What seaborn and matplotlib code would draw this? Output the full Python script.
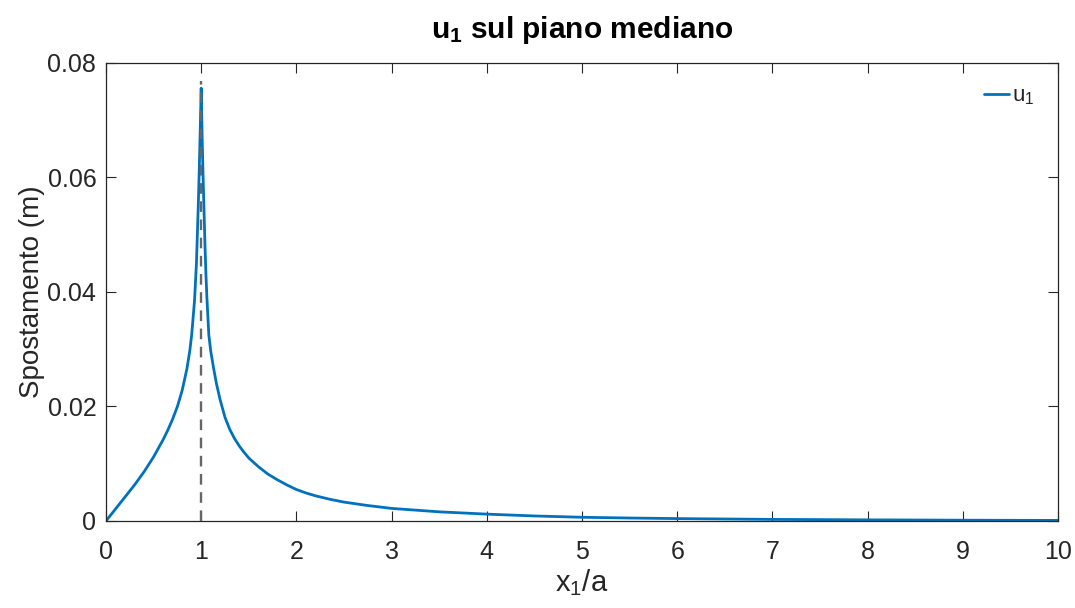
import numpy as np
import pandas as pd
import matplotlib
matplotlib.use("Agg")
import matplotlib.pyplot as plt
import seaborn as sns
from matplotlib.ticker import FuncFormatter

# Displacement u_1 along the median plane, x_1/a from 0 to 10
x_left = [0.0, 0.1, 0.2, 0.3, 0.4, 0.5, 0.6, 0.65, 0.7, 0.75, 0.8, 0.85,
          0.88, 0.9, 0.93, 0.95, 0.97, 0.98, 0.99, 1.0]
u_left = [0.0, 0.0021, 0.0042, 0.0063, 0.0086, 0.0112, 0.0142, 0.0159,
          0.0178, 0.0200, 0.0228, 0.0266, 0.0297, 0.0325, 0.0385, 0.0450,
          0.0555, 0.0615, 0.0685, 0.0756]
x_right = [1.01, 1.02, 1.03, 1.04, 1.05, 1.06, 1.08, 1.1, 1.13, 1.16, 1.2,
           1.25, 1.3, 1.35, 1.4, 1.45, 1.5, 1.6, 1.7, 1.8, 1.9, 2.0, 2.1,
           2.2, 2.35, 2.5, 2.75, 3.0, 3.5, 4.0, 4.5, 5.0, 5.5, 6.0, 7.0, 8.0,
           9.0, 10.0]
u_right = [0.0670, 0.0600, 0.0540, 0.0480, 0.0430, 0.0390, 0.0325, 0.0297,
           0.0267, 0.0240, 0.0211, 0.0181, 0.0160, 0.0144, 0.0131, 0.0120,
           0.0110, 0.0095, 0.0082, 0.0072, 0.0063, 0.0055, 0.0049, 0.0044,
           0.0038, 0.0033, 0.0027, 0.0022, 0.0016, 0.0012, 0.00088, 0.00065,
           0.00052, 0.00042, 0.00028, 0.00020, 0.00014, 0.00010]

x_crack = 1.0
u_crack_top = 0.0768

x_ticks = list(range(0, 11))
y_ticks = [0.0, 0.02, 0.04, 0.06, 0.08]

df = pd.DataFrame({"x": x_left + x_right, "u": u_left + u_right})

sns.set_theme(style="white")
plt.rcParams["font.family"] = ["Liberation Sans", "DejaVu Sans"]
plt.rcParams["mathtext.fontset"] = "custom"
plt.rcParams["mathtext.rm"] = "Liberation Sans"
plt.rcParams["mathtext.it"] = "Liberation Sans:italic"
plt.rcParams["mathtext.bf"] = "Liberation Sans:bold"

fig = plt.figure(figsize=(10.75, 6.08), dpi=100)
ax = fig.add_axes([0.0986, 0.1431, 0.8856, 0.7533])

dark = "#262626"
ax.plot([x_crack, x_crack], [0.0, u_crack_top], color="#666666",
        linestyle=(0, (4.5, 3.2)), linewidth=1.7, zorder=3)
sns.lineplot(data=df, x="x", y="u", ax=ax, color="#0072BD", linewidth=2.0,
             label=r"$\mathregular{u_1}$", sort=False, zorder=2)

ax.set_xlim(0, 10)
ax.set_ylim(0, 0.08)
ax.set_xticks(x_ticks)
ax.set_yticks(y_ticks)
ax.yaxis.set_major_formatter(FuncFormatter(lambda v, p: "0" if v == 0 else f"{v:g}"))

ax.tick_params(axis="both", which="major", direction="in", length=7,
               width=0.8, color=dark, labelcolor=dark, labelsize=18,
               top=True, right=True, bottom=True, left=True)
ax.tick_params(axis="x", pad=14)
ax.tick_params(axis="y", pad=7)
for s in ax.spines.values():
    s.set_color(dark)
    s.set_linewidth(0.9)
    s.set_visible(True)

ax.set_xlabel(r"$\mathregular{x_1}$/a", fontsize=21, color=dark, labelpad=2)
ax.set_ylabel("Spostamento (m)", fontsize=20, color=dark, labelpad=2)
ax.set_title(r"$\mathbf{u_1}$ sul piano mediano", fontsize=21.5,
             fontweight="bold", color="black", pad=18)

leg = ax.legend(loc="upper right", frameon=False, fontsize=16,
                handlelength=1.1, handletextpad=0.15,
                bbox_to_anchor=(0.996, 0.995))
for t in leg.get_texts():
    t.set_color(dark)

fig.savefig("out.png", dpi=100, facecolor="white")
